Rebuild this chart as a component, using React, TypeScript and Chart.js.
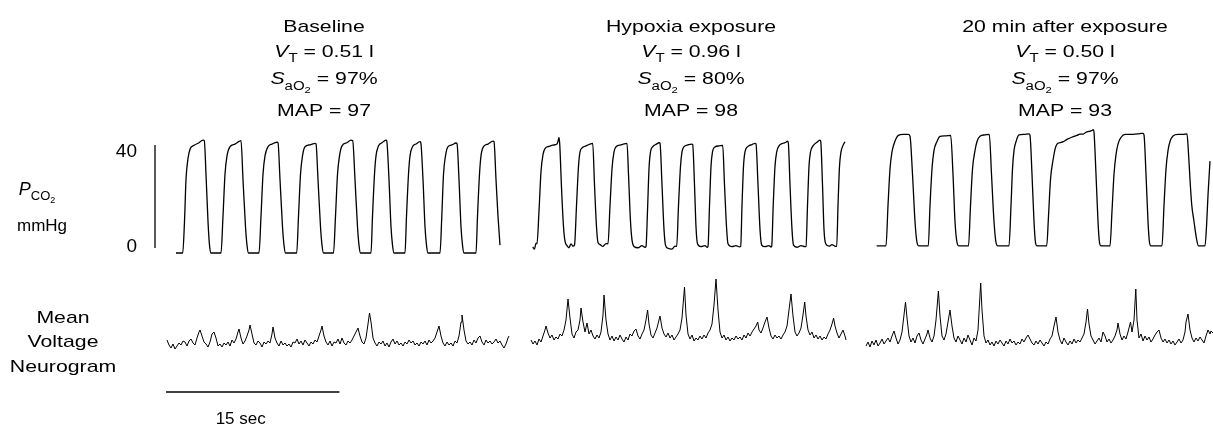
import React, { useEffect, useRef } from "react";
import { Chart, registerables } from "chart.js";
Chart.register(...registerables);

// ---------- text values ----------
const PANEL_TITLES = ["Baseline", "Hypoxia exposure", "20 min after exposure"];
const VT_LITRES = ["0.51", "0.96", "0.50"];
const SAO2_PCT = [97, 80, 97];
const MAP_VALUES = [97, 98, 93];
const Y_TICKS = [0, 40];
const SCALE_BAR_SEC = 15;
const UNITS_PER_SEC = 11.56; // time axis units per second

// ---------- CO2 traces: [time unit, mmHg] ----------
const CO2_BASELINE: number[][] = [
  [176, 0], [182.7, 0], [184.5, 12], [186, 28], [188, 36], [190, 39.5], [194, 41], [199, 42], [203, 43], [204.3, 42.8], [206, 30], [208, 12], [209.5, 3], [211, 0],
  [221, 0], [223, 14], [225, 30], [227, 37], [230, 40.5], [235, 41.5], [239, 42.5], [241, 42.8], [243, 28], [245.5, 10], [247, 3], [248.5, 0],
  [259, 0], [261, 14], [263, 30], [265, 37], [268, 40.5], [272, 41.5], [277, 42.2], [278, 42], [280, 28], [282.5, 10], [284, 3], [285.5, 0],
  [296.7, 0], [298.5, 14], [300.5, 30], [302.5, 37], [305, 40.5], [310, 41.2], [315, 41.8], [316, 41.6], [318, 28], [320.5, 10], [322, 3], [323.5, 0],
  [333.5, 0], [335.5, 14], [337.5, 30], [339.5, 37], [342, 40.8], [347, 42], [351, 43], [352.7, 42.8], [355, 28], [357.5, 10], [359, 3], [360.5, 0],
  [371, 0], [372.5, 14], [374.5, 30], [376, 37], [378.5, 40.8], [382, 42], [386, 43], [386.7, 42.8], [389, 28], [391, 10], [392.5, 3], [394, 0],
  [405, 0], [406.5, 14], [408.5, 30], [410, 37], [412.5, 40.5], [416, 41.5], [420, 42.4], [420.7, 42.2], [423, 28], [425, 10], [426.5, 3], [428, 0],
  [440, 0], [441.8, 14], [443.5, 30], [445.5, 37], [448, 40.5], [452, 41.2], [456, 41.9], [457, 41.7], [459, 28], [461, 10], [462.5, 3], [464, 0],
  [476, 0], [477.5, 14], [479.5, 30], [481, 37], [483.5, 40.5], [488, 41.5], [493, 42.6], [494, 42.4], [496, 28], [498, 14], [500, 3],
];

const CO2_HYPOXIA: number[][] = [
  [532.7, 2.3], [534.5, 1.5], [536, 3.8], [537, 3.5], [539, 16], [541, 31], [543, 37.5], [545, 39.8], [549, 40.6], [553, 41.1], [557, 41.5], [558, 42.5], [559, 44], [559.8, 41], [561.5, 25], [563.5, 10], [565, 4.5], [567, 2.8], [569, 2], [571, 3.5], [573, 2.6],
  [574.5, 3], [576.5, 18], [578.5, 33], [580, 38.5], [582, 40], [586, 40.8], [590, 41.5], [592.7, 41.8], [594.5, 26], [596.5, 10], [598, 4], [600, 3.2], [603, 2.5], [606, 3.6],
  [608, 3.5], [610, 18], [612, 32], [614, 38.5], [616, 40.5], [621, 41.2], [627, 41.8], [628.5, 30], [630.5, 12], [632, 5], [634, 2.5], [638, 2], [642, 2.8], [645, 2.2],
  [646, 2.5], [647.5, 16], [649, 32], [650.5, 38.5], [653, 40.6], [656, 41.4], [659.3, 42], [660, 41.8], [662, 26], [664, 9], [665.5, 3], [668, 1.8], [672, 1.5], [675, 2.6],
  [676.7, 2.5], [678.5, 18], [680.5, 33], [682, 38.5], [684, 40.5], [688, 41.2], [691.7, 41.5], [692.7, 41.3], [694.5, 26], [696, 10], [697.5, 3.5], [701, 2.4], [705, 2.8], [707, 2.2],
  [708, 2.5], [709.5, 18], [711, 33], [712.5, 38.5], [715, 40.4], [719, 40.8], [722.7, 41], [724.5, 26], [726.5, 10], [728, 3.5], [732, 2.4], [736, 2.8], [739.5, 2.3],
  [740.7, 2.5], [742, 18], [743.5, 33], [745, 38.5], [748, 40.6], [752, 41.3], [755, 41.8], [756, 41.6], [758, 26], [760, 9], [761.7, 3], [765, 2.4], [769, 2.8], [771, 2.3],
  [771.7, 2.5], [773.2, 18], [775, 33], [776.7, 38.5], [779, 40.8], [783, 41.8], [786, 42.2], [787.5, 42.6], [788.3, 42], [790, 26], [792, 9], [793.5, 3], [797, 2.2], [801, 2.8], [805, 2.4],
  [806, 2.5], [807.5, 18], [809, 33], [810.5, 38.5], [813, 40.8], [817, 42.2], [820, 43], [820.7, 42.6], [822.5, 26], [824, 9], [825.7, 3.5], [829, 2.6], [832, 3.2], [835.5, 2.5],
  [836.7, 2.5], [838, 18], [839.5, 33], [841, 38.5], [843, 41], [845, 42.4],
];

const CO2_AFTER: number[][] = [
  [876.7, 2.7], [886, 2.7], [888, 18], [890, 32], [892, 38.5], [894, 41.5], [896, 43.5], [898.3, 44.8], [903, 45.2], [908.3, 45.2], [910, 44.5], [912.5, 30], [915, 12], [917, 4], [919, 2.7],
  [928.3, 2.7], [930, 18], [932, 32], [934, 39], [937, 42.5], [940, 44.4], [945, 44.6], [950.7, 44.8], [953, 30], [955, 12], [957, 4], [959, 2.7],
  [968.5, 2.7], [970.5, 18], [972.5, 32], [975, 39], [977, 42.5], [980, 44.5], [985, 45], [989.3, 45.2], [991.5, 30], [994, 12], [996, 4], [998, 2.7],
  [1009, 2.7], [1011, 18], [1012.5, 32], [1014, 39], [1016.5, 43], [1019, 45], [1024, 45.2], [1029, 45.4], [1030, 44.8], [1032, 30], [1034, 12], [1035.5, 4], [1037, 2.7],
  [1046.7, 2.7], [1048.5, 14], [1050.5, 28], [1053.3, 36], [1055, 39.5], [1057, 41.5], [1060, 42], [1063.3, 42.4], [1067, 43.3], [1070, 43.8], [1073.3, 44.3], [1077, 44.8], [1080, 45.3], [1083.3, 45.3], [1086, 46], [1089, 46.3], [1091.7, 46.6], [1093.3, 47], [1094, 46], [1096, 30], [1098, 12], [1099.5, 4], [1101, 2.7],
  [1110, 2.7], [1112, 16], [1114, 30], [1116, 37.5], [1118, 41.5], [1121, 44], [1125, 45.2], [1133, 45.2], [1140, 45.5], [1143, 45.6], [1144, 45], [1146, 30], [1148, 12], [1149.5, 4], [1151, 2.7],
  [1162, 2.7], [1164, 18], [1166, 32], [1168, 39], [1170, 42.5], [1173, 44.6], [1178, 45.2], [1183, 45.2], [1187, 45.4], [1188.5, 38], [1190, 28], [1191.7, 18.5], [1194, 12], [1196.7, 5], [1198.5, 2.7], [1205, 2.7], [1206.5, 10], [1208, 22], [1210, 35],
];

// ---------- Mean voltage neurograms: [time unit, arbitrary units] ----------
const NEURO_BASELINE: number[][] = [
  [167, 20], [169, 15], [171, 12], [173, 16], [175, 11], [177, 14], [179, 17], [181, 15], [183, 19], [185, 18], [187, 14], [189, 19], [191, 21], [193, 17], [195, 15], [197, 22], [199, 28], [200, 30], [202, 24], [204, 18], [206, 16], [208, 13], [210, 18], [212, 26], [214, 28], [216, 22], [218, 14], [220, 16], [222, 13], [224, 17], [226, 15], [228, 18], [230, 14], [232, 20], [234, 17], [236, 21], [238, 28], [239, 31], [241, 22], [243, 16], [245, 19], [247, 24], [249, 30], [250, 35], [252, 26], [254, 17], [256, 15], [258, 19], [260, 17], [262, 13], [264, 18], [266, 16], [268, 19], [270, 17], [272, 26], [273, 33], [275, 22], [277, 17], [279, 14], [281, 19], [283, 15], [285, 17], [287, 14], [289, 16], [291, 13], [293, 18], [295, 17], [297, 21], [299, 16], [301, 19], [303, 15], [305, 20], [307, 17], [309, 14], [311, 18], [313, 16], [315, 20], [317, 18], [319, 24], [321, 30], [322, 34], [324, 24], [326, 18], [328, 15], [330, 19], [332, 14], [334, 18], [336, 17], [338, 21], [340, 16], [342, 22], [344, 17], [346, 15], [348, 19], [350, 17], [352, 20], [354, 24], [356, 28], [358, 32], [360, 24], [362, 18], [364, 16], [366, 22], [368, 36], [369.5, 47], [371, 38], [373, 22], [375, 17], [377, 14], [379, 18], [381, 16], [383, 19], [385, 14], [387, 17], [389, 13], [391, 18], [393, 21], [395, 16], [397, 19], [399, 15], [401, 17], [403, 14], [405, 18], [407, 16], [409, 20], [411, 17], [413, 19], [415, 15], [417, 17], [419, 14], [421, 18], [423, 16], [425, 19], [427, 15], [429, 20], [431, 17], [433, 19], [435, 22], [437, 28], [439, 34], [441, 24], [443, 17], [445, 14], [447, 18], [449, 15], [451, 17], [453, 14], [455, 19], [457, 17], [459, 24], [461, 38], [462, 45], [464, 30], [466, 19], [468, 16], [470, 18], [472, 15], [474, 20], [476, 17], [478, 22], [480, 24], [482, 18], [484, 15], [486, 20], [488, 17], [490, 19], [492, 16], [494, 18], [496, 21], [498, 17], [500, 19], [502, 15], [504, 12], [506, 16], [508, 22], [509, 24],
];

const NEURO_HYPOXIA: number[][] = [
  [531, 20], [533, 16], [535, 19], [537, 15], [539, 21], [541, 18], [543, 24], [545, 30], [546, 34], [548, 27], [550, 22], [552, 25], [554, 20], [556, 23], [558, 21], [560, 26], [562, 24], [564, 30], [566, 40], [568, 61], [570, 42], [572, 26], [574, 22], [576, 28], [578, 30], [580, 40], [581, 52], [583, 38], [585, 28], [587, 37], [589, 26], [591, 30], [593, 24], [595, 21], [597, 25], [599, 22], [601, 28], [603, 45], [604, 65], [606, 40], [608, 26], [610, 20], [612, 24], [614, 19], [616, 23], [618, 20], [620, 25], [622, 21], [624, 18], [626, 23], [628, 20], [630, 26], [632, 24], [634, 29], [636, 31], [638, 24], [640, 21], [642, 26], [644, 30], [646, 40], [647.6, 50], [649, 36], [651, 25], [653, 22], [655, 27], [657, 32], [659, 40], [660, 44], [662, 32], [664, 26], [666, 23], [668, 27], [670, 22], [672, 25], [674, 20], [676, 23], [678, 26], [680, 30], [682, 42], [684.5, 73], [686, 45], [688, 26], [690, 21], [692, 25], [694, 19], [696, 22], [698, 20], [700, 24], [702, 21], [704, 25], [706, 22], [708, 27], [710, 30], [712, 36], [714, 55], [716, 81], [718, 50], [720, 28], [722, 22], [724, 25], [726, 20], [728, 23], [730, 19], [732, 22], [734, 20], [736, 24], [738, 21], [740, 23], [742, 20], [744, 25], [746, 22], [748, 27], [750, 24], [752, 28], [754, 31], [756, 34], [757.7, 38], [759, 30], [761, 27], [763, 32], [765, 38], [767, 43], [769, 32], [771, 24], [773, 21], [775, 25], [777, 22], [779, 24], [781, 21], [783, 25], [785, 28], [787, 34], [789, 50], [791, 66], [793, 44], [795, 28], [797, 24], [799, 27], [801, 32], [803, 45], [804.7, 58], [806, 44], [808, 30], [810, 25], [812, 28], [814, 22], [816, 25], [818, 21], [820, 24], [822, 20], [824, 23], [826, 21], [828, 26], [830, 30], [832, 36], [833.6, 42], [835, 34], [837, 27], [839, 22], [841, 26], [843, 30], [845, 24], [846, 20],
];

const NEURO_AFTER: number[][] = [
  [866, 14], [868, 18], [870, 13], [872, 19], [874, 15], [876, 20], [878, 14], [880, 17], [882, 21], [884, 16], [886, 19], [888, 22], [890, 18], [892, 24], [894, 29], [896, 22], [898, 16], [900, 20], [902, 28], [904, 45], [905.5, 58], [907, 42], [909, 24], [911, 18], [913, 22], [915, 17], [917, 24], [919, 27], [921, 20], [923, 16], [925, 21], [927, 26], [928, 30], [930, 22], [932, 18], [934, 24], [936, 40], [938.4, 69], [940, 44], [942, 24], [944, 20], [946, 26], [948, 38], [950, 50], [952, 34], [954, 22], [956, 18], [958, 24], [960, 20], [962, 16], [964, 22], [966, 18], [968, 25], [970, 20], [972, 15], [974, 22], [976, 19], [978, 30], [980.7, 77], [982, 50], [984, 24], [986, 17], [988, 20], [990, 15], [992, 18], [994, 14], [996, 19], [998, 16], [1000, 20], [1002, 17], [1004, 14], [1006, 19], [1008, 16], [1010, 21], [1012, 17], [1014, 19], [1016, 15], [1018, 18], [1020, 16], [1022, 21], [1024, 18], [1026, 22], [1028, 25], [1030, 21], [1032, 17], [1034, 15], [1036, 19], [1038, 16], [1040, 20], [1042, 17], [1044, 14], [1046, 18], [1048, 16], [1050, 21], [1052, 24], [1054, 34], [1056, 43], [1058, 28], [1060, 20], [1062, 16], [1064, 22], [1066, 18], [1068, 15], [1070, 19], [1072, 16], [1074, 21], [1076, 17], [1078, 20], [1080, 18], [1082, 22], [1084, 26], [1086, 38], [1087.5, 51], [1089, 36], [1091, 24], [1093, 20], [1095, 16], [1097, 19], [1099, 22], [1101, 18], [1103, 28], [1105, 24], [1107, 18], [1109, 21], [1111, 17], [1113, 20], [1115, 24], [1117, 30], [1118, 37], [1120, 26], [1122, 20], [1124, 24], [1126, 21], [1128, 28], [1130.5, 38], [1132, 28], [1134, 40], [1135.8, 71], [1137, 40], [1139, 22], [1141, 26], [1143, 19], [1145, 24], [1147, 20], [1149, 23], [1151, 18], [1153, 21], [1155, 25], [1157, 28], [1159, 30], [1161, 22], [1163, 18], [1165, 21], [1167, 17], [1169, 20], [1171, 16], [1173, 19], [1175, 15], [1177, 18], [1179, 21], [1181, 17], [1183, 20], [1185, 28], [1186, 38], [1188, 46], [1190, 30], [1192, 22], [1194, 18], [1196, 22], [1198, 19], [1200, 23], [1202, 20], [1204, 17], [1206, 24], [1208, 30], [1210, 26], [1211, 29], [1213, 27],
];

// ---------- layout (positions only) ----------
const W = 1213;
const H = 426;
const TITLE_CENTERS = [324, 691, 1065];
const TITLE_BASELINES = [32, 57, 84, 116];
const SCALE_BAR_START = 166;
const FONT = '"Liberation Sans", Arial, Helvetica, sans-serif';
const WIDE = 1.25; // horizontal stretch of the figure lettering

type Run = { text: string; size: number; italic?: boolean; dy?: number };

function drawRuns(ctx: CanvasRenderingContext2D, runs: Run[], cx: number, by: number, sx = 1) {
  let total = 0;
  const widths: number[] = [];
  for (const r of runs) {
    ctx.font = `${r.italic ? "italic " : ""}${r.size}px ${FONT}`;
    const w = ctx.measureText(r.text).width * sx;
    widths.push(w);
    total += w;
  }
  let x = cx - total / 2;
  runs.forEach((r, i) => {
    ctx.font = `${r.italic ? "italic " : ""}${r.size}px ${FONT}`;
    ctx.save();
    ctx.translate(x, by + (r.dy || 0));
    ctx.scale(sx, 1);
    ctx.fillText(r.text, 0, 0);
    ctx.restore();
    x += widths[i];
  });
}

const annotations = {
  id: "annotations",
  afterDraw(chart: any) {
    const ctx: CanvasRenderingContext2D = chart.ctx;
    const xs = chart.scales.x;
    const yc = chart.scales.yC;
    ctx.save();
    ctx.fillStyle = "#000";
    ctx.strokeStyle = "#000";
    ctx.textAlign = "left";
    ctx.textBaseline = "alphabetic";

    // panel titles
    PANEL_TITLES.forEach((title, i) => {
      const cx = xs.getPixelForValue(TITLE_CENTERS[i]);
      drawRuns(ctx, [{ text: title, size: 17 }], cx, TITLE_BASELINES[0], WIDE);
      drawRuns(ctx, [
        { text: "V", size: 17, italic: true },
        { text: "T", size: 12, dy: 5 },
        { text: ` = ${VT_LITRES[i]} l`, size: 17 },
      ], cx, TITLE_BASELINES[1], WIDE);
      drawRuns(ctx, [
        { text: "S", size: 17, italic: true },
        { text: "aO", size: 12, dy: 6 },
        { text: "2", size: 9, dy: 9 },
        { text: ` = ${SAO2_PCT[i]}%`, size: 17 },
      ], cx, TITLE_BASELINES[2], WIDE);
      drawRuns(ctx, [{ text: `MAP = ${MAP_VALUES[i]}`, size: 17 }], cx, TITLE_BASELINES[3], WIDE);
    });

    // CO2 axis: vertical line and ticks
    const yTop = yc.getPixelForValue(Y_TICKS[1]);
    const yBot = yc.getPixelForValue(Y_TICKS[0]);
    ctx.lineWidth = 1.3;
    ctx.beginPath();
    ctx.moveTo(155, yTop - 3);
    ctx.lineTo(155, yBot - 5);
    ctx.stroke();
    ctx.textAlign = "right";
    ctx.textBaseline = "middle";
    ctx.font = `19px ${FONT}`;
    Y_TICKS.forEach((v) => {
      const py = yc.getPixelForValue(v) + (v === 0 ? -6 : 4);
      ctx.fillText(String(v), 137, py);
    });
    ctx.textAlign = "left";
    ctx.textBaseline = "alphabetic";

    // P_CO2 label
    drawRuns(ctx, [
      { text: "P", size: 18, italic: true },
      { text: "CO", size: 13, dy: 5 },
      { text: "2", size: 9, dy: 8 },
    ], 37, 195);
    drawRuns(ctx, [{ text: "mmHg", size: 17 }], 42, 231);

    // Neurogram label
    drawRuns(ctx, [{ text: "Mean", size: 17 }], 63, 323, WIDE);
    drawRuns(ctx, [{ text: "Voltage", size: 17 }], 63, 347, WIDE);
    drawRuns(ctx, [{ text: "Neurogram", size: 17 }], 63, 372, WIDE);

    // time scale bar
    const x0 = xs.getPixelForValue(SCALE_BAR_START);
    const x1 = xs.getPixelForValue(SCALE_BAR_START + SCALE_BAR_SEC * UNITS_PER_SEC);
    ctx.lineWidth = 1.5;
    ctx.beginPath();
    ctx.moveTo(x0, 392);
    ctx.lineTo(x1, 392);
    ctx.stroke();
    drawRuns(ctx, [{ text: `${SCALE_BAR_SEC} sec`, size: 17 }], (x0 + x1) / 2 - 12, 424);
    ctx.restore();
  },
};

const toXY = (arr: number[][]) => arr.map(([x, y]) => ({ x, y }));

export default function App() {
  const ref = useRef<HTMLCanvasElement | null>(null);
  useEffect(() => {
    if (!ref.current) return;
    const co2 = (data: number[][]) => ({
      data: toXY(data),
      yAxisID: "yC",
      borderColor: "#000",
      borderWidth: 1.3,
      pointRadius: 0,
      fill: false,
      cubicInterpolationMode: "monotone" as const,
    });
    const neuro = (data: number[][]) => ({
      data: toXY(data),
      yAxisID: "yN",
      borderColor: "#000",
      borderWidth: 1,
      pointRadius: 0,
      fill: false,
      tension: 0,
    });
    const chart = new Chart(ref.current, {
      type: "line",
      data: {
        datasets: [
          co2(CO2_BASELINE), co2(CO2_HYPOXIA), co2(CO2_AFTER),
          neuro(NEURO_BASELINE), neuro(NEURO_HYPOXIA), neuro(NEURO_AFTER),
        ] as any,
      },
      options: {
        animation: false,
        responsive: false,
        devicePixelRatio: 1,
        layout: { padding: 0 },
        plugins: { legend: { display: false }, tooltip: { enabled: false } },
        scales: {
          x: { type: "linear", display: false, min: 0, max: W },
          yC: { type: "linear", display: false, min: -(H - 253) / 2.625, max: 253 / 2.625 },
          yN: { type: "linear", display: false, min: 360 - H, max: 360 },
        },
      },
      plugins: [annotations],
    });
    return () => chart.destroy();
  }, []);
  return (
    <div style={{ position: "fixed", left: 0, top: 0, width: W, height: H, background: "#fff" }}>
      <canvas ref={ref} width={W} height={H} style={{ width: W, height: H, display: "block" }} />
    </div>
  );
}
